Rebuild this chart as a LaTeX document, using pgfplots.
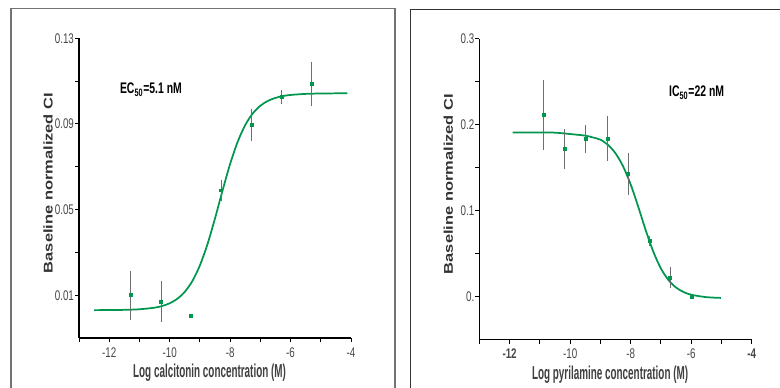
\documentclass[border=0pt]{standalone}
\usepackage{pgfplots}
\pgfplotsset{compat=1.18}
\usepackage{pgfplotstable}
\usepackage{fontspec}
\setmainfont{Liberation Sans}
\newfontfamily\tickfont[FakeStretch=0.7]{Liberation Sans}
\newfontfamily\labfont[FakeStretch=0.53]{Liberation Sans}
\newfontfamily\annfont[FakeStretch=0.68]{Liberation Sans}
\newfontfamily\yfont[FakeStretch=1.3]{Liberation Sans}
\definecolor{cgreen}{RGB}{0,150,78}
\definecolor{ebar}{RGB}{110,110,110}

\pgfplotstableread{
x y e
-11.29 0.0100 0.0105
-10.28 0.0069 0.0085
-9.30 0.0002 0
-8.30 0.0590 0.0040
-7.29 0.0895 0.0063
-6.29 0.1025 0.0022
-5.30 0.1087 0.0093
}\calpts

\pgfplotstableread{
x y
-12.5 0.00302
-12.0 0.00305
-11.5 0.00315
-11.0 0.00342
-10.5 0.00416
-10.25 0.00494
-10.0 0.00621
-9.75 0.00828
-9.5 0.01156
-9.25 0.01658
-9.0 0.0239
-8.75 0.03378
-8.5 0.04583
-8.25 0.05888
-8.0 0.07126
-7.75 0.08163
-7.5 0.08945
-7.25 0.0949
-7.0 0.09848
-6.75 0.10075
-6.5 0.10215
-6.25 0.10301
-6.0 0.10353
-5.5 0.10402
-5.0 0.1042
-4.5 0.10427
-4.12 0.10428
}\calfit

\pgfplotstableread{
x y e
-10.87 0.2113 0.038
-10.19 0.1717 0.021
-9.49 0.1833 0.014
-8.77 0.1840 0.024
-8.09 0.1425 0.022
-7.38 0.0645 0.003
-6.70 0.0218 0.0098
-5.98 0.0000 0
}\pyrpts

\pgfplotstableread{
x y
-11.9 0.19099
-11.0 0.19091
-10.5 0.19072
-10.0 0.18912
-9.5 0.18725
-9.25 0.18516
-9.0 0.18257
-8.75 0.17649
-8.5 0.16663
-8.25 0.15153
-8.0 0.13046
-7.75 0.10448
-7.5 0.07692
-7.25 0.05206
-7.0 0.03264
-6.75 0.01915
-6.5 0.01049
-6.25 0.00523
-6.0 0.00213
-5.5 -0.00067
-5.02 -0.00156
}\pyrfit

\pgfplotsset{
  panel/.style={
    scale only axis,
    anchor=south west,
    axis lines=left,
    axis line style={-, black, line width=0.8pt},
    tick align=outside,
    major tick length=3pt,
    tick style={black, line width=0.7pt},
    xmin=-13, xmax=-4,
    xtick={-13,-12,...,-4},
    xticklabels={,-12,,-10,,-8,,-6,,-4},
    ticklabel style={font=\tickfont\fontsize{10.5}{11}\selectfont, text=black!72},
    yticklabel style={inner sep=0.6pt},
    xticklabel style={yshift=-0.5pt},
    xlabel style={font=\labfont\bfseries\fontsize{14}{15}\selectfont, text=black!75,
      at={(axis description cs:0.48,-0.117)}, anchor=center},
    ylabel style={font=\yfont\bfseries\fontsize{9.5}{10}\selectfont, text=black!80,
      at={(axis description cs:-0.114,0.517)}, anchor=center},
    ylabel={Baseline normalized CI},
    clip=false,
  },
  fitline/.style={cgreen, line width=1.3pt, smooth, no marks},
  pts/.style={only marks, mark=square*, mark size=1.1pt, cgreen,
    error bars/.cd, y dir=both, y explicit,
    error mark=-,
    error bar style={ebar, line width=0.5pt},
    error mark options={ebar, mark size=1.6pt, line width=0.6pt}},
}

\begin{document}
\begin{tikzpicture}
\useasboundingbox (0,0) rectangle (585pt,290.25pt);
\draw[color=black!55, line width=0.8pt] (8.25pt,-2pt) -- (8.25pt,283.9pt) -- (296.25pt,283.9pt) -- (296.25pt,-2pt);
\draw[color=black!80, line width=0.8pt] (307.9pt,-2pt) -- (307.9pt,283.3pt) -- (590pt,283.3pt);

\begin{axis}[panel,
  at={(59.25pt,36.75pt)}, width=204pt, height=224.8pt,
  ymin=-0.01, ymax=0.13,
  ytick={0.01,0.03,0.05,0.07,0.09,0.11,0.13},
  yticklabels={0.01,,0.05,,0.09,,0.13},
  xlabel={Log calcitonin concentration (M)},
]
\addplot[fitline] table[x=x,y=y] {\calfit};
\addplot[pts] table[x=x,y=y,y error=e] {\calpts};
\node[font=\annfont\bfseries\fontsize{11.5}{12}\selectfont] at (axis cs:-10.62,0.1059) {EC\textsubscript{50}=5.1 nM};
\end{axis}

\begin{axis}[panel,
  at={(359.5pt,35.6pt)}, width=204.3pt, height=225.6pt,
  ymin=-0.05, ymax=0.3,
  ytick={0,0.05,0.1,0.15,0.2,0.25,0.3},
  yticklabels={0.,,0.1,,0.2,,0.3},
  xticklabels={,{\bfseries -12},,-10,,-8,,-6,,{\bfseries -4}},
  xlabel={Log pyrilamine concentration (M)},
]
\addplot[fitline] table[x=x,y=y] {\pyrfit};
\addplot[pts] table[x=x,y=y,y error=e] {\pyrpts};
\node[font=\annfont\bfseries\fontsize{11.5}{12}\selectfont] at (axis cs:-5.82,0.237) {IC\textsubscript{50}=22 nM};
\end{axis}
\end{tikzpicture}
\end{document}
